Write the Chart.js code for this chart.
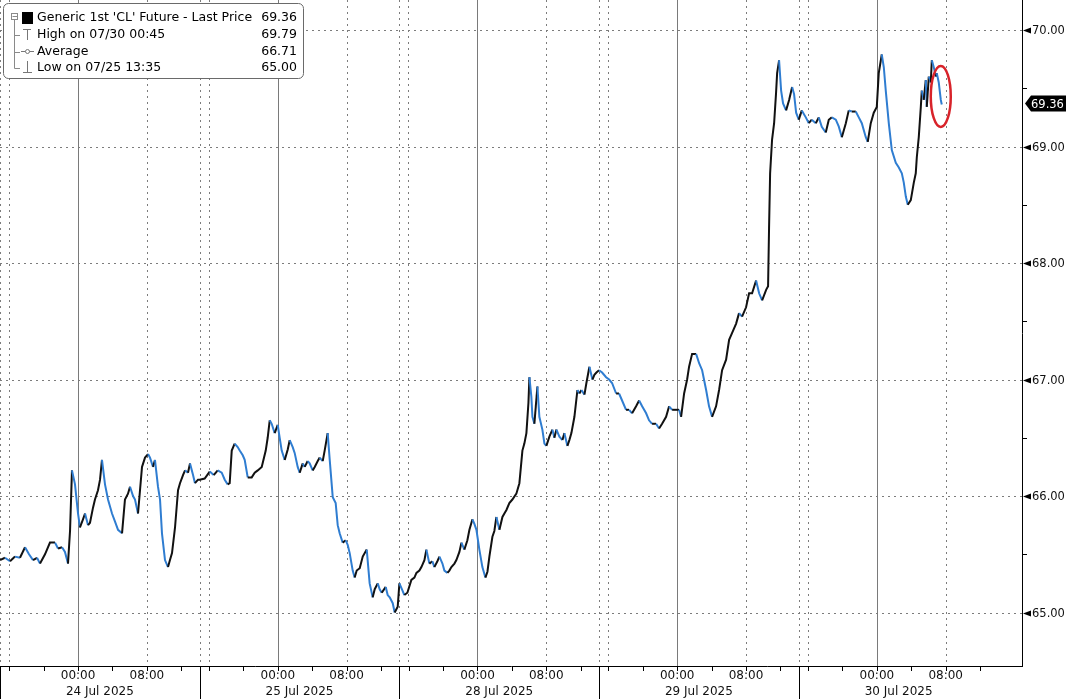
<!DOCTYPE html>
<html><head><meta charset="utf-8">
<script src="https://cdn.jsdelivr.net/npm/chart.js@4/dist/chart.umd.min.js"></script>
<style>html,body{margin:0;padding:0;background:#fff;overflow:hidden}#wrap{position:relative;width:1067px;height:699px}</style>
</head><body><div id="wrap"><canvas id="c" width="1067" height="699"></canvas></div>
<script>
// ---- data (hours since each session open, price) ----
const dayLabels = ['24 Jul 2025', '25 Jul 2025', '28 Jul 2025', '29 Jul 2025', '30 Jul 2025'];
const timeLabels = ['00:00', '08:00'];
const yTicks = [65, 66, 67, 68, 69, 70];

const hours24 = [0.00,0.56,1.13,1.69,2.25,2.82,3.27,3.72,4.17,4.51,5.07,5.63,6.20,6.54,6.99,7.32,7.66,7.89,8.11,8.45,8.79,9.01,9.35,9.58,9.92,10.14,10.48,10.70,11.04,11.27,11.49,11.83,12.17,12.62,12.96,13.30,13.75,14.08,14.42,14.65,14.99,15.21,15.55,16.00,16.34,16.68,16.90,17.24,17.46,17.80,18.03,18.25,18.59,18.93,19.15,19.38,19.72,20.06,20.28,20.62,20.85,21.18,21.41,21.75,21.97,22.31];
const price24 = [65.45,65.47,65.44,65.48,65.47,65.56,65.50,65.45,65.47,65.42,65.50,65.60,65.60,65.55,65.56,65.52,65.42,65.70,66.22,66.10,65.85,65.73,65.80,65.85,65.75,65.77,65.90,65.97,66.05,66.14,66.31,66.10,65.97,65.85,65.78,65.71,65.68,65.97,66.02,66.08,66.00,65.97,65.85,66.25,66.33,66.36,66.33,66.25,66.31,66.08,65.97,65.68,65.45,65.39,65.45,65.51,65.73,66.05,66.11,66.18,66.22,66.20,66.28,66.18,66.11,66.14];

const hours25 = [0.00,0.56,1.13,1.58,2.03,2.48,2.82,3.15,3.38,3.61,3.94,4.28,4.51,4.85,5.07,5.41,5.86,6.20,6.54,6.99,7.44,7.66,7.89,8.11,8.45,8.79,9.01,9.24,9.58,9.92,10.14,10.48,10.70,11.04,11.27,11.61,11.83,12.17,12.39,12.73,12.96,13.30,13.52,13.86,14.08,14.42,14.65,14.99,15.32,15.55,15.77,16.11,16.45,16.68,16.90,17.24,17.46,17.69,18.03,18.37,18.82,19.15,19.49,19.72,20.06,20.28,20.51,20.96,21.18,21.41,21.75,21.97,22.31];
const price25 = [66.14,66.15,66.21,66.18,66.22,66.20,66.14,66.10,66.11,66.39,66.45,66.42,66.39,66.35,66.31,66.16,66.16,66.20,66.22,66.25,66.39,66.50,66.65,66.62,66.54,66.61,66.50,66.39,66.31,66.40,66.48,66.42,66.37,66.25,66.20,66.28,66.25,66.30,66.28,66.22,66.25,66.30,66.33,66.30,66.39,66.54,66.31,65.99,65.94,65.75,65.68,65.60,65.62,65.58,65.51,65.36,65.30,65.36,65.38,65.48,65.54,65.25,65.13,65.20,65.25,65.20,65.17,65.22,65.15,65.13,65.08,65.00,65.05];

const hours28 = [0.00,0.34,0.56,0.90,1.35,1.69,1.92,2.25,2.48,2.82,3.04,3.38,3.72,3.94,4.28,4.51,4.85,5.07,5.41,5.63,5.86,6.20,6.42,6.76,6.99,7.32,7.66,7.89,8.23,8.45,8.68,9.01,9.35,9.69,9.92,10.14,10.48,10.70,10.93,11.27,11.61,11.83,12.06,12.39,12.73,13.18,13.52,13.86,14.08,14.31,14.54,14.65,14.87,14.99,15.21,15.55,15.77,16.11,16.34,16.56,16.90,17.24,17.46,17.69,18.03,18.37,18.59,18.93,19.15,19.38,19.72,20.06,20.28,20.51,20.85,21.07,21.41,21.75,21.97,22.20];
const price28 = [65.25,65.19,65.15,65.17,65.28,65.30,65.34,65.36,65.39,65.45,65.54,65.42,65.44,65.39,65.44,65.48,65.42,65.36,65.34,65.36,65.39,65.42,65.45,65.52,65.60,65.54,65.62,65.71,65.80,65.76,65.71,65.54,65.39,65.30,65.35,65.48,65.65,65.70,65.82,65.71,65.82,65.85,65.88,65.94,65.97,66.02,66.11,66.39,66.45,66.54,66.80,67.02,66.85,66.68,66.62,66.94,66.68,66.57,66.45,66.43,66.51,66.57,66.50,66.57,66.51,66.48,66.54,66.43,66.48,66.54,66.68,66.91,66.88,66.91,66.87,66.97,67.11,67.00,67.04,67.06];

const hours29 = [0.00,0.34,0.79,1.13,1.46,1.92,2.25,2.59,3.04,3.38,3.72,4.17,4.51,4.85,5.30,5.63,5.97,6.42,6.76,7.10,7.55,7.89,8.23,8.68,9.01,9.24,9.58,9.92,10.14,10.48,10.93,11.27,11.61,12.06,12.39,12.73,13.18,13.52,13.86,14.31,14.65,14.99,15.44,15.77,16.11,16.56,16.90,17.24,17.69,18.03,18.37,18.82,19.04,19.15,19.27,19.49,19.72,19.94,20.06,20.28,20.51,20.73,21.07,21.41,21.75,21.97,22.20];
const price29 = [67.08,67.06,67.02,67.00,66.97,66.88,66.88,66.82,66.74,66.74,66.71,66.77,66.82,66.77,66.71,66.65,66.62,66.62,66.58,66.62,66.68,66.77,66.74,66.74,66.74,66.68,66.88,67.00,67.11,67.22,67.22,67.14,67.08,66.91,66.77,66.68,66.77,66.91,67.08,67.17,67.34,67.40,67.48,67.57,67.54,67.62,67.74,67.74,67.85,67.74,67.68,67.77,67.80,68.30,68.77,69.06,69.20,69.46,69.63,69.74,69.48,69.37,69.31,69.40,69.51,69.45,69.29];

const hours30 = [0.00,0.34,0.79,1.13,1.46,1.92,2.25,2.59,3.04,3.38,3.72,4.17,4.51,4.85,5.30,5.63,5.97,6.42,6.76,7.10,7.55,7.77,8.11,8.45,8.79,9.01,9.35,9.58,9.80,10.14,10.48,10.93,11.27,11.61,11.83,12.06,12.28,12.62,12.96,13.18,13.30,13.52,13.75,13.86,14.08,14.31,14.42,14.65,14.87,14.99,15.21,15.44,15.55,15.77,16.00,16.11];
const price30 = [69.23,69.31,69.25,69.20,69.23,69.20,69.25,69.17,69.12,69.23,69.25,69.23,69.17,69.08,69.20,69.31,69.30,69.30,69.25,69.20,69.08,69.04,69.20,69.29,69.34,69.63,69.79,69.68,69.48,69.20,68.97,68.86,68.82,68.77,68.69,68.57,68.50,68.54,68.69,68.77,68.91,69.08,69.34,69.48,69.40,69.57,69.34,69.60,69.55,69.74,69.68,69.60,69.63,69.55,69.40,69.36];

const legendNames = ["Generic 1st 'CL' Future - Last Price", 'High on 07/30 00:45', 'Average', 'Low on 07/25 13:35'];
const legendValues = ['69.36', '69.79', '66.71', '65.00'];
const lastPrice = 69.36;

// ---- compressed trading-clock layout (hours) ----
const SESSION = 22.5, MIDNIGHT = 8.8, EIGHT = 16.55, GAP = 1.0, FOURH = 3.875;
const BLUE = '#2f7dd1', BLACK = '#111';

const dayHours = [hours24, hours25, hours28, hours29, hours30];
const dayPrices = [price24, price25, price28, price29, price30];
const pts = [];
dayHours.forEach((hs, d) => {
  const n = Math.min(hs.length, dayPrices[d].length);
  for (let i = 0; i < n; i++) pts.push({x: d * SESSION + hs[i], y: dayPrices[d][i]});
});

function seg(ctx, x1, y1, x2, y2) { ctx.beginPath(); ctx.moveTo(x1, y1); ctx.lineTo(x2, y2); ctx.stroke(); }

const gridPlugin = {
  id: 'grid',
  beforeDatasetsDraw(chart) {
    const {ctx, chartArea: a, scales: {x, y}} = chart;
    ctx.save();
    ctx.lineWidth = 1;
    ctx.strokeStyle = '#7c7c7c';
    ctx.setLineDash([2, 4]);
    yTicks.forEach(v => { const py = Math.round(y.getPixelForValue(v)) + 0.5; seg(ctx, a.left, py, a.right, py); });
    dayLabels.forEach((_, d) => {
      const b = d * SESSION;
      [b, b + GAP, b + EIGHT].forEach(h => { const px = Math.round(x.getPixelForValue(h)) + 0.5; seg(ctx, px, a.top, px, a.bottom); });
    });
    ctx.setLineDash([]);
    ctx.strokeStyle = '#7a7a7a';
    dayLabels.forEach((_, d) => {
      const px = Math.round(x.getPixelForValue(d * SESSION + MIDNIGHT)) + 0.5;
      seg(ctx, px, a.top, px, a.bottom);
    });
    ctx.restore();
  },
  afterDraw(chart) {
    const {ctx, chartArea: a, scales: {x, y}} = chart;
    const W = chart.width, H = chart.height;
    ctx.save();
    ctx.lineWidth = 1;
    ctx.strokeStyle = '#000';
    // axes lines
    seg(ctx, a.left, a.bottom + 0.5, a.right + 1, a.bottom + 0.5);
    seg(ctx, a.right + 0.5, a.top, a.right + 0.5, a.bottom + 1);
    // x axis ticks / labels
    ctx.fillStyle = '#111';
    ctx.font = '12px "DejaVu Sans"';
    ctx.textAlign = 'center';
    ctx.textBaseline = 'middle';
    dayLabels.forEach((lab, d) => {
      const b = d * SESSION;
      const sx = Math.max(0.5, Math.round(x.getPixelForValue(b)) + 0.5);
      seg(ctx, sx, a.bottom, sx, H);
      for (let k = -2; k <= 3; k++) {
        const tx = Math.round(x.getPixelForValue(b + MIDNIGHT + k * FOURH)) + 0.5;
        if (tx < a.right) seg(ctx, tx, a.bottom, tx, a.bottom + 5);
      }
      ctx.fillText(timeLabels[0], x.getPixelForValue(b + MIDNIGHT), a.bottom + 10);
      ctx.fillText(timeLabels[1], x.getPixelForValue(b + EIGHT), a.bottom + 10);
      ctx.fillText(lab, x.getPixelForValue(b + SESSION / 2), a.bottom + 26);
    });
    // y axis
    ctx.textAlign = 'left';
    ctx.font = '11.5px "DejaVu Sans"';
    yTicks.forEach(v => {
      const py = Math.round(y.getPixelForValue(v)) + 0.5;
      ctx.fillStyle = '#000';
      ctx.beginPath(); ctx.moveTo(a.right + 1, py); ctx.lineTo(a.right + 9, py - 3); ctx.lineTo(a.right + 9, py + 3); ctx.closePath(); ctx.fill();
      ctx.fillStyle = '#111';
      ctx.fillText(v.toFixed(2), a.right + 10, py + 1);
      const mp = Math.round(y.getPixelForValue(v + 0.5)) + 0.5;
      if (mp > a.top) seg(ctx, a.right, mp, a.right + 5, mp);
    });
    // last price tag
    const ly = y.getPixelForValue(lastPrice) - 1;
    ctx.fillStyle = '#000';
    ctx.beginPath();
    ctx.moveTo(a.right + 3, ly); ctx.lineTo(a.right + 9, ly - 8); ctx.lineTo(W - 1, ly - 8);
    ctx.lineTo(W - 1, ly + 8); ctx.lineTo(a.right + 9, ly + 8); ctx.closePath(); ctx.fill();
    ctx.fillStyle = '#fff';
    ctx.fillText(lastPrice.toFixed(2), a.right + 9, ly + 1);
    // red ellipse around latest move
    const last = pts[pts.length - 1];
    ctx.strokeStyle = '#d8232a';
    ctx.lineWidth = 2.5;
    ctx.beginPath();
    ctx.ellipse(x.getPixelForValue(last.x) - 1, y.getPixelForValue(69.43), 10, 30.5, 0, 0, Math.PI * 2);
    ctx.stroke();
    // legend
    ctx.lineWidth = 1;
    ctx.fillStyle = '#fff';
    ctx.strokeStyle = '#6a6a6a';
    ctx.beginPath(); ctx.roundRect(3.5, 3.5, 300, 75, 5); ctx.fill(); ctx.stroke();
    const rows = [18, 35, 51.5, 68];
    ctx.strokeStyle = '#8a8a8a';
    ctx.strokeRect(11.5, 13.5, 6, 6);
    seg(ctx, 12.5, 16.5, 17, 16.5);
    seg(ctx, 14.5, 20, 14.5, rows[3] + 0.5);
    [1, 2, 3].forEach(i => seg(ctx, 14.5, Math.round(rows[i]) + 0.5, 20, Math.round(rows[i]) + 0.5));
    ctx.fillStyle = '#000';
    ctx.fillRect(22, 12, 11, 12);
    ctx.strokeStyle = '#777';
    seg(ctx, 23, 29.5, 31, 29.5); seg(ctx, 27.5, 29.5, 27.5, 40);
    seg(ctx, 21, 51.5, 34, 51.5);
    ctx.fillStyle = '#fff'; ctx.beginPath(); ctx.arc(27.5, 51.5, 2, 0, Math.PI * 2); ctx.fill(); ctx.stroke();
    seg(ctx, 27.5, 61, 27.5, 72.5); seg(ctx, 23, 72.5, 32, 72.5);
    ctx.font = '12.5px "DejaVu Sans"';
    ctx.fillStyle = '#000';
    legendNames.forEach((t, i) => {
      ctx.textAlign = 'left'; ctx.fillText(t, 37, rows[i]);
      ctx.textAlign = 'right'; ctx.fillText(legendValues[i], 297, rows[i]);
    });
    ctx.restore();
  }
};

new Chart(document.getElementById('c'), {
  type: 'line',
  data: { datasets: [{
    data: pts,
    borderColor: BLACK,
    borderWidth: 2,
    pointRadius: 0,
    tension: 0,
    segment: { borderColor: c => (c.p1.parsed.y < c.p0.parsed.y ? BLUE : BLACK) }
  }]},
  options: {
    responsive: false,
    animation: false,
    layout: { padding: { left: 0, top: 0, right: 45, bottom: 33 } },
    scales: {
      x: { type: 'linear', min: 0, max: 115.15, display: false },
      y: { type: 'linear', min: 64.541, max: 70.2575, display: false }
    },
    plugins: { legend: { display: false }, tooltip: { enabled: false } }
  },
  plugins: [gridPlugin]
});
</script>
</body></html>
